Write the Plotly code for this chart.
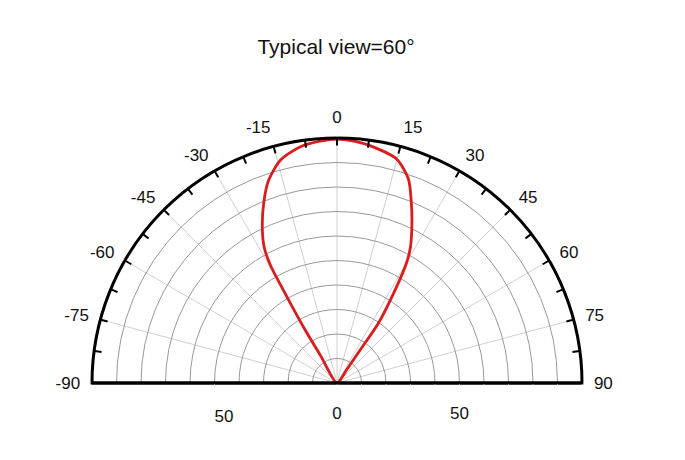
import plotly.graph_objects as go

# ---- data ----
title_text = "Typical view=60°"

# lobe path: from origin up the left side, over the top, down the right side
curve_theta = [-30.0, -31.0, -31.0, -30.0, -29.5, -28.3, -26.0, -22.2, -18.6, -14.2, -8.8, -4.0, 0.0,
               4.0, 7.9, 14.9, 19.3, 22.8, 25.9, 28.4, 30.0, 32.0, 34.7, 35.0, 36.0, 36.0]
curve_r = [0.0, 12.8, 25.7, 43.9, 55.0, 62.5, 69.5, 79.2, 87.4, 93.9, 97.6, 99.0, 99.6,
           99.0, 97.8, 94.6, 88.2, 78.5, 69.9, 63.0, 57.0, 44.9, 29.8, 16.6, 6.8, 0.0]

angle_ticks = [-90, -75, -60, -45, -30, -15, 0, 15, 30, 45, 60, 75, 90]
angle_labels = [str(a) for a in angle_ticks]
all_angle_ticks = [-90, -82.5, -75, -67.5, -60, -52.5, -45, -37.5, -30, -22.5, -15, -7.5, 0,
                   7.5, 15, 22.5, 30, 37.5, 45, 52.5, 60, 67.5, 75, 82.5, 90]
radial_ticks = [0, 10, 20, 30, 40, 50, 60, 70, 80, 90, 100]
radial_labels = ["0", "", "", "", "", "50", "", "", "", "", ""]
left_radial_ticks = [50]
left_radial_labels = ["50"]

W, H = 685, 460
OFF = 8  # page body margin
cx, cy, R = 337 - OFF, 383 - OFF, 245
dom_x = [(cx - R) / W, (cx + R) / W]
dom_y = [(H - cy) / H, (H - cy + R) / H]

font_fam = "Liberation Sans, Arial, sans-serif"

fig = go.Figure()
fig.add_trace(go.Scatterpolar(
    r=curve_r, theta=curve_theta, mode="lines",
    line=dict(color="#d91c1c", width=2.8, shape="spline", smoothing=0.7),
    subplot="polar", showlegend=False, hoverinfo="skip"))
fig.add_trace(go.Scatterpolar(r=[], theta=[], subplot="polar2", showlegend=False))

fig.update_layout(
    width=W, height=H,
    margin=dict(l=0, r=0, t=0, b=0),
    paper_bgcolor="white",
    font=dict(family=font_fam, size=17, color="#111"),
    title=dict(text=title_text, x=(336 - OFF) / W, xanchor="center", xref="paper",
               y=1 - (47 - OFF) / H, yanchor="middle", yref="paper",
               font=dict(family=font_fam, size=21, color="#111")),
    polar=dict(
        domain=dict(x=dom_x, y=dom_y),
        sector=[0, 180],
        bgcolor="white",
        angularaxis=dict(
            direction="clockwise", rotation=90,
            tickmode="array", tickvals=angle_ticks, ticktext=angle_labels,
            showline=True, linecolor="black", linewidth=3,
            ticks="outside", ticklen=7, tickwidth=1, tickcolor="white",
            showgrid=True, gridcolor="#d0d0d0", gridwidth=1,
            tickfont=dict(size=17, color="#111"),
        ),
        radialaxis=dict(
            range=[0, 100], angle=0, side="clockwise",
            tickmode="array", tickvals=radial_ticks, ticktext=radial_labels,
            showline=True, linecolor="black", linewidth=3,
            ticks="outside", ticklen=14, tickcolor="white",
            showgrid=True, gridcolor="#999999", gridwidth=1.2,
            tickangle=0,
            tickfont=dict(size=17, color="#111"),
        ),
    ),
    polar2=dict(
        domain=dict(x=dom_x, y=dom_y),
        sector=[0, 180],
        bgcolor="rgba(0,0,0,0)",
        angularaxis=dict(
            direction="clockwise", rotation=90,
            tickmode="array", tickvals=all_angle_ticks,
            showticklabels=False, showline=False, showgrid=False,
            ticks="inside", ticklen=7, tickwidth=2, tickcolor="black",
        ),
        radialaxis=dict(
            range=[0, 100], angle=180, side="counterclockwise",
            tickmode="array", tickvals=left_radial_ticks, ticktext=left_radial_labels,
            showline=True, linecolor="black", linewidth=3,
            ticks="outside", ticklen=14, tickcolor="white",
            showgrid=False, tickangle=180,
            tickfont=dict(size=17, color="#111"),
        ),
    ),
)

fig.write_html("out.html")
